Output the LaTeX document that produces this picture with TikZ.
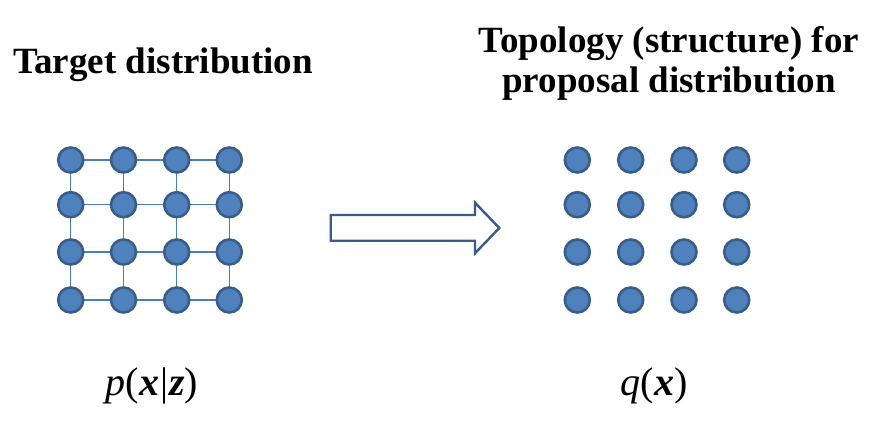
\documentclass[tikz,border=0pt]{standalone}
\usepackage{fontspec}
\setmainfont{Liberation Serif}
\definecolor{dotfill}{HTML}{4F81BD}
\definecolor{dotline}{HTML}{385D8A}
\definecolor{edgec}{HTML}{4A7EBB}
\begin{document}
\begin{tikzpicture}[x=1pt,y=-1pt,
  dot/.style={circle,fill=dotfill,draw=dotline,line width=2.6pt,minimum size=25pt,inner sep=0pt},
  edge/.style={draw=edgec,line width=1.2pt},
  title/.style={font=\fontsize{37}{40}\selectfont\bfseries,align=center,anchor=base},
  mathlbl/.style={font=\fontsize{40}{44}\selectfont,anchor=base}]
\useasboundingbox (0,0) rectangle (877,423);
\fill[white] (0,0) rectangle (877,423);
% left grid
\foreach \i/\x in {1/70.7,2/123.5,3/176.7,4/229.3}{
  \foreach \j/\y in {1/160,2/204.7,3/252,4/300}{
    \coordinate (L\i\j) at (\x,\y);
  }
}
\foreach \i in {1,...,4}{
  \foreach \j/\k in {1/2,2/3,3/4}{
    \draw[edge] (L\i\j) -- (L\i\k);
    \draw[edge] (L\j\i) -- (L\k\i);
  }
}
\foreach \i in {1,...,4}{
  \foreach \j in {1,...,4}{
    \node[dot] (l\i\j) at (L\i\j) {};
  }
}
% right grid
\foreach \i/\x in {1/577.3,2/630.7,3/684,4/736.7}{
  \foreach \j/\y in {1/160,2/204.7,3/252,4/300}{
    \node[dot] (r\i\j) at (\x,\y) {};
  }
}
% block arrow
\draw[dotline,line width=2.4pt,fill=white,line join=miter]
  (330.7,215) -- (475,215) -- (475,202.7) -- (499.3,228) -- (475,253.3)
  -- (475,240.7) -- (330.7,240.7) -- cycle;
% titles
\node[title] (t1) at (163,73) {Target distribution};
\node[title] (t2) at (669,92.7) {Topology (structure) for\\proposal distribution};
% labels
\node[mathlbl] (m1) at (152,395) {\textit{p}(\textbf{\textit{x}}\kern1pt|\kern1pt\textbf{\textit{z}})};
\node[mathlbl] (m2) at (654,395) {\textit{q}(\textbf{\textit{x}})};
\end{tikzpicture}
\end{document}
